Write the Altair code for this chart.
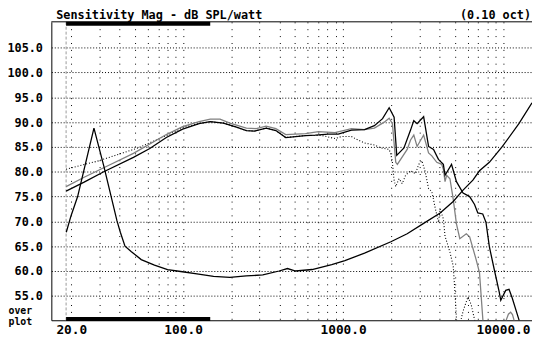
import altair as alt
import pandas as pd

# ---- readings (frequency in Hz, level in dB) ----
z_f = [18.6, 19.9, 21.9, 27.7, 31.9, 38.6, 40.5, 43.3, 47.5, 54.7, 66.2, 79.9, 96.5, 122, 155, 196, 248,
       315, 398, 449, 505, 640, 849, 1026, 1362, 1989, 2516, 3188, 4043, 4880, 5624, 6478, 7123, 8210,
       9912, 12564, 15172]
z_db = [67.8, 71.1, 75.0, 88.8, 81.2, 70.1, 67.8, 65.0, 63.9, 62.3, 61.2, 60.3, 59.9, 59.4, 58.9, 58.7, 59.0,
        59.2, 60.0, 60.5, 60.0, 60.3, 61.3, 62.1, 63.6, 65.9, 67.5, 69.6, 71.7, 74.0, 76.3, 78.3, 80.2, 81.9,
        85.1, 89.7, 93.9]

r_f = [18.55, 24.05, 31.9, 48.9, 61.9, 78.5, 99.3, 125.8, 147.7, 178.5, 215.6, 248.5, 279.5, 329.9, 380.1,
       438, 504.7, 581.6, 670, 809, 933, 1128, 1362, 1569, 1765, 1941, 2084, 2165, 2402, 2641, 2767, 2901,
       3188, 3423, 3676, 3946, 4235, 4338, 4764, 5113, 5624, 6183, 6636, 6954, 7466, 7823, 8210, 8812, 9460,
       9677, 10389, 10902, 11424, 12564, 13000]
r_db = [76.1, 77.9, 80.0, 82.9, 84.7, 86.9, 88.6, 89.7, 90.1, 89.8, 89.0, 88.3, 88.2, 88.8, 88.3,
        86.9, 87.1, 87.3, 87.4, 87.6, 87.6, 88.4, 88.5, 89.3, 90.7, 92.9, 91.0, 83.3, 84.8, 88.4, 90.3, 89.7,
        91.1, 85.1, 84.5, 82.5, 81.5, 79.3, 81.5, 78.0, 75.7, 75.0, 73.4, 71.7, 71.5, 69.8, 64.9, 60.3, 55.8,
        54.1, 56.1, 56.3, 54.5, 50.2, 48.5]

g_f = [18.55, 24.05, 31.9, 48.9, 78.5, 99.3, 125.8, 147.7, 170.1, 196, 248.5, 286.3, 329.9, 380.1, 438,
       504.7, 581.6, 702, 890, 1128, 1362, 1569, 1808, 1941, 2034, 2134, 2184, 2516, 2641, 2767, 2901, 3188,
       3423, 3588, 3852, 4135, 4235, 4338, 4437, 4656, 4880, 5113, 5366, 5892, 6183, 6788, 7123, 7466, 7700,
       10000, 10492, 10800, 11150, 11450, 11690, 12000]
g_db = [77.0, 78.9, 80.8, 83.7, 87.5, 89.1, 90.1, 90.6, 90.6, 89.8, 88.8, 88.7, 89.2, 88.7, 87.5,
        87.6, 87.7, 88.1, 87.9, 88.7, 88.5, 88.8, 90.0, 90.8, 89.7, 81.9, 81.5, 84.5, 86.4, 87.4, 85.1, 87.4,
        83.8, 83.2, 81.9, 81.5, 80.5, 78.0, 79.3, 78.6, 74.5, 69.5, 66.5, 67.5, 66.9, 62.3, 59.7, 50.5, 45,
        45, 50.2, 51.3, 51.7, 51.2, 50.2, 47]

d_f = [18.55, 29.6, 52.2, 79.9, 101.3, 125.8, 147.7, 178.5, 215.6, 248.5, 279.5, 329.9, 380.1, 438, 504.7,
       581.6, 737, 890, 979, 1128, 1239, 1362, 1569, 1726, 1941, 1989, 2034, 2084, 2134, 2237, 2344, 2460,
       2641, 2835, 2972, 3113, 3267, 3423, 3588, 3766, 3946, 4043, 4235, 4338, 4437, 4656, 4880, 4999, 5113,
       5238, 5413, 5490, 5624, 6036, 6324, 6636, 6856]
d_db = [80.5, 82.2, 84.8, 87.4, 89.0, 89.7, 90.1, 89.8, 89.0, 88.3, 88.2, 88.8, 88.3, 86.9, 87.1,
        87.3, 87.3, 86.7, 87.1, 87.1, 86.4, 85.8, 85.4, 84.8, 84.5, 83.5, 81.9, 78.3, 77.0, 78.6, 77.6, 79.3,
        80.2, 79.6, 81.5, 82.2, 79.9, 76.6, 76.0, 72.7, 69.8, 72.5, 70.5, 67.0, 66.0, 63.8, 61.0, 56.0, 50.3,
        48.0, 48.5, 50.5, 51.9, 54.8, 53.2, 50.2, 48.0]

grid_f = [20, 30, 40, 50, 60, 70, 80, 90, 100, 200, 300, 400, 500, 600, 700, 800, 900,
          1000, 2000, 3000, 4000, 5000, 6000, 7000, 8000, 9000, 10000]
label_f = [20, 100, 1000, 10000]
y_ticks = [55, 60, 65, 70, 75, 80, 85, 90, 95, 100, 105]
band_f = [18.55, 147.7]
marker_f = 18.55
x_dom = [15, 15170]
y_dom = [50.07, 110.22]

title_left = "Sensitivity Mag - dB SPL/watt"
title_right = "(0.10 oct)"
corner = ["over", "plot"]

FONT = "DejaVu Sans Mono"
W, H = 488, 303

xs = alt.Scale(type="log", domain=x_dom, nice=False)
ys = alt.Scale(domain=y_dom, nice=False, zero=False)

lab_list = ",".join(str(v) for v in label_f)
xaxis = alt.Axis(values=grid_f, title=None,
                 labelExpr=f"indexof([{lab_list}], datum.value) >= 0 ? format(datum.value, '.1f') : ''",
                 labelFont=FONT, labelFontWeight="bold", labelFontSize=13, labelColor="black",
                 labelPadding=3, labelOverlap=False, labelFlush=False, ticks=False,
                 domain=True, domainColor="black", domainWidth=1,
                 grid=True, gridColor="black", gridDash=[1, 6], gridWidth=1, gridOpacity=1)
yaxis = alt.Axis(values=y_ticks, title=None, format=".1f",
                 labelFont=FONT, labelFontWeight="bold", labelFontSize=12, labelColor="black",
                 labelPadding=9, labelOverlap=False, labelFlush=False, ticks=False,
                 domain=True, domainColor="black", domainWidth=1,
                 grid=True, gridColor="black", gridDash=[1, 2], gridWidth=1, gridOpacity=1)


def X(field="f"):
    return alt.X(f"{field}:Q", scale=xs, axis=xaxis)


def Y(field="db"):
    return alt.Y(f"{field}:Q", scale=ys, axis=yaxis)


def curve(fs, dbs, **kw):
    return alt.Chart(pd.DataFrame({"f": fs, "db": dbs})).mark_line(clip=True, **kw).encode(x=X(), y=Y())


border = alt.Chart(pd.DataFrame({"f": [x_dom[0]], "f2": [x_dom[1]], "db": [y_dom[1]]})).mark_rule(
    color="black", strokeWidth=1).encode(x=X(), x2="f2:Q", y=Y())

marker = alt.Chart(pd.DataFrame({"f": [marker_f], "db": [y_dom[0]], "db2": [y_dom[1]]})).mark_rule(
    color="#999999", strokeWidth=1, strokeDash=[3, 2]).encode(x=X(), y=Y(), y2="db2:Q")

band_df = pd.DataFrame({"f": [band_f[0]], "f2": [band_f[1]]})
band_top = alt.Chart(band_df).mark_rect(color="black").encode(
    x=X(), x2="f2:Q", y=alt.value(0), y2=alt.value(4))
band_bot = alt.Chart(band_df).mark_rect(color="black").encode(
    x=X(), x2="f2:Q", y=alt.value(H - 3.2), y2=alt.value(H + 0.8))

txt = dict(font=FONT, fontWeight="bold", color="black", align="left", baseline="alphabetic")
t_left = alt.Chart(pd.DataFrame({"t": [title_left]})).mark_text(fontSize=12, **txt).encode(
    x=alt.value(5), y=alt.value(-2.7), text="t:N")
t_right = alt.Chart(pd.DataFrame({"t": [title_right]})).mark_text(
    fontSize=12, font=FONT, fontWeight="bold", color="black", align="right", baseline="alphabetic").encode(
    x=alt.value(W - 1), y=alt.value(-2.7), text="t:N")
t_over = alt.Chart(pd.DataFrame({"t": [corner[0]]})).mark_text(fontSize=10, **txt).encode(
    x=alt.value(-43.5), y=alt.value(H - 6), text="t:N")
t_plot = alt.Chart(pd.DataFrame({"t": [corner[1]]})).mark_text(fontSize=10, **txt).encode(
    x=alt.value(-43.5), y=alt.value(H + 4.5), text="t:N")

chart = alt.layer(
    marker,
    curve(d_f, d_db, color="black", strokeWidth=1.1, strokeDash=[1, 2]),
    curve(g_f, g_db, color="#808080", strokeWidth=1.3),
    curve(r_f, r_db, color="black", strokeWidth=1.3),
    curve(z_f, z_db, color="black", strokeWidth=1.3),
    border, band_top, band_bot, t_left, t_right, t_over, t_plot,
).properties(
    width=W, height=H,
    padding={"left": 44, "top": 11.5, "right": 0, "bottom": 17.5},
    autosize=alt.AutoSizeParams(type="none"),
    background="white",
).configure_view(strokeWidth=0)

chart.save("out.html", embed_options={"renderer": "svg", "actions": False})
